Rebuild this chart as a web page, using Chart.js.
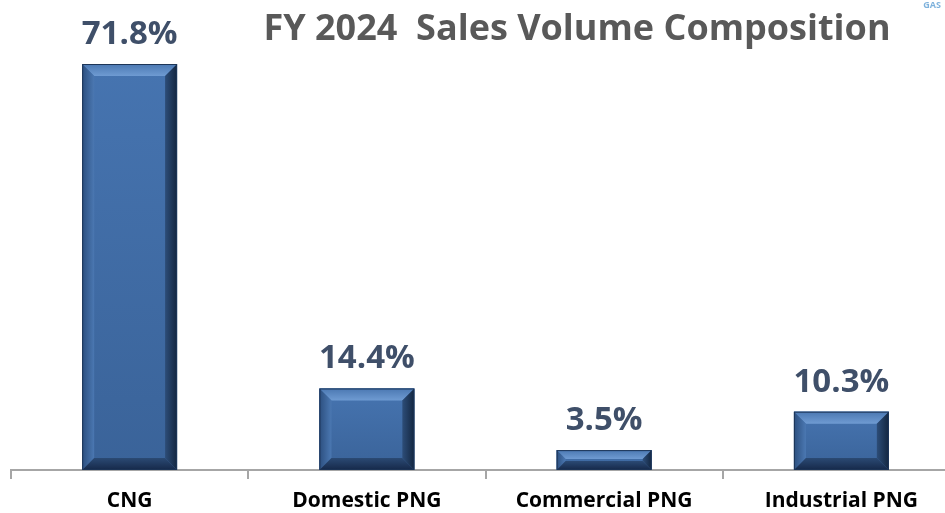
<!DOCTYPE html>
<html>
<head>
<meta charset="utf-8">
<script src="https://cdn.jsdelivr.net/npm/chart.js@4.4.1/dist/chart.umd.min.js"></script>
<style>
  html, body { margin: 0; padding: 0; background: #fff; overflow: hidden; }
  #wrap { width: 945px; height: 513px; overflow: hidden; }
</style>
</head>
<body>
<div id="wrap"><canvas id="chart" width="960" height="524"></canvas></div>
<script>
// data
const categories = ['CNG', 'Domestic PNG', 'Commercial PNG', 'Industrial PNG'];
const shares = [71.8, 14.4, 3.5, 10.3];
const valueLabels = ['71.8%', '14.4%', '3.5%', '10.3%'];
const chartTitle = 'FY 2024  Sales Volume Composition';

const FONT = '"Open Sans", Lato, sans-serif';

// beveled look for the bars, drawn on top of the library's bar rects
const bevelPlugin = {
    id: 'bevel',
    afterDatasetsDraw(chart) {
        const ctx = chart.ctx;
        const meta = chart.getDatasetMeta(0);
        meta.data.forEach(bar => {
            const l = bar.x - bar.width / 2, r = bar.x + bar.width / 2;
            const t = bar.y, b = bar.base;
            const bv = Math.min(12, (b - t) / 2 - 1);
            const face = ctx.createLinearGradient(0, t, 0, b);
            face.addColorStop(0, '#4674b0');
            face.addColorStop(1, '#3a6399');
            ctx.save();
            ctx.fillStyle = face;
            ctx.fillRect(l, t, r - l, b - t);
            const poly = (pts, fill) => {
                ctx.beginPath();
                ctx.moveTo(pts[0][0], pts[0][1]);
                pts.slice(1).forEach(p => ctx.lineTo(p[0], p[1]));
                ctx.closePath();
                ctx.fillStyle = fill;
                ctx.fill();
            };
            const top = ctx.createLinearGradient(0, t, 0, t + bv);
            top.addColorStop(0, '#4b78b2');
            top.addColorStop(1, '#6f9bd2');
            poly([[l, t], [r, t], [r - bv, t + bv], [l + bv, t + bv]], top);
            const left = ctx.createLinearGradient(l, 0, l + bv, 0);
            left.addColorStop(0, '#2c4f7f');
            left.addColorStop(1, '#4b78b2');
            poly([[l, t], [l + bv, t + bv], [l + bv, b - bv], [l, b]], left);
            const right = ctx.createLinearGradient(r - bv, 0, r, 0);
            right.addColorStop(0, '#2d4d78');
            right.addColorStop(1, '#132640');
            poly([[r, t], [r, b], [r - bv, b - bv], [r - bv, t + bv]], right);
            const bot = ctx.createLinearGradient(0, b - bv, 0, b);
            bot.addColorStop(0, '#2b4a74');
            bot.addColorStop(1, '#16294a');
            poly([[l, b], [r, b], [r - bv, b - bv], [l + bv, b - bv]], bot);
            ctx.strokeStyle = '#1d3557';
            ctx.lineWidth = 1;
            ctx.strokeRect(l + 0.5, t + 0.5, r - l - 1, b - t - 1);
            ctx.restore();
        });
    }
};

// value labels above bars, title and the little corner logo text
const textPlugin = {
    id: 'texts',
    afterDraw(chart) {
        const ctx = chart.ctx;
        const meta = chart.getDatasetMeta(0);
        ctx.save();
        ctx.textAlign = 'center';
        ctx.textBaseline = 'alphabetic';
        ctx.fillStyle = '#3f4f69';
        ctx.font = 'bold 33px ' + FONT;
        meta.data.forEach((bar, i) => {
            ctx.fillText(valueLabels[i], bar.x, bar.y - 20);
        });
        ctx.fillStyle = '#595959';
        ctx.font = 'bold 36px ' + FONT;
        ctx.fillText(chartTitle, 577, 40);
        ctx.fillStyle = '#7fb2dc';
        ctx.font = 'bold 9px ' + FONT;
        ctx.fillText('GAS', 932, 8);
        ctx.restore();
    }
};

const ctx = document.getElementById('chart').getContext('2d');
new Chart(ctx, {
    type: 'bar',
    data: {
        labels: categories,
        datasets: [{
            data: shares,
            backgroundColor: '#3d679f',
            borderWidth: 0,
            categoryPercentage: 0.8,
            barPercentage: 0.5
        }]
    },
    options: {
        responsive: false,
        animation: false,
        layout: { padding: { top: 64, left: 11, right: 0, bottom: 0 } },
        plugins: {
            legend: { display: false },
            tooltip: { enabled: false }
        },
        scales: {
            x: {
                offset: true,
                grid: {
                    display: true,
                    offset: true,
                    drawOnChartArea: false,
                    drawTicks: true,
                    tickLength: 9,
                    color: '#a6a6a6',
                    lineWidth: 2
                },
                border: { display: true, color: '#a6a6a6', width: 2 },
                ticks: {
                    color: '#000',
                    font: { family: FONT, size: 21, weight: 'bold', lineHeight: 1.1 },
                    padding: 11,
                    maxRotation: 0
                }
            },
            y: {
                display: false,
                min: 0,
                max: 71.8
            }
        }
    },
    plugins: [bevelPlugin, textPlugin]
});
</script>
</body>
</html>
